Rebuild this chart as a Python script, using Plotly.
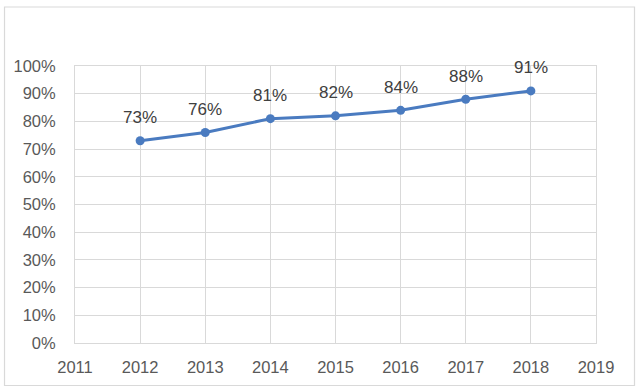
import plotly.graph_objects as go

years = [2012, 2013, 2014, 2015, 2016, 2017, 2018]
values = [73, 76, 81, 82, 84, 88, 91]
labels = ["73%", "76%", "81%", "82%", "84%", "88%", "91%"]
y_ticks = [0, 10, 20, 30, 40, 50, 60, 70, 80, 90, 100]
y_tick_text = [f"{v}%" for v in y_ticks]
x_ticks = [2011, 2012, 2013, 2014, 2015, 2016, 2017, 2018, 2019]

line_color = "#4A7BC0"
grid_color = "#D9D9D9"
font_family = "Liberation Sans, Arial, sans-serif"

fig = go.Figure()
fig.add_trace(go.Scatter(
    x=years, y=values, mode="lines+markers",
    line=dict(color=line_color, width=3),
    marker=dict(color=line_color, size=9),
    hoverinfo="skip", showlegend=False,
))

for x, y, t in zip(years, values, labels):
    fig.add_annotation(x=x, y=y, text=t, showarrow=False, yshift=23,
                       font=dict(family=font_family, size=17, color="#404040"))

fig.add_shape(type="rect", xref="paper", yref="paper",
              x0=-0.1353, x1=1.0739, y0=-0.1534, y1=1.2130,
              line=dict(color="#D9D9D9", width=1.2), layer="below")

fig.update_layout(
    width=643, height=389,
    margin=dict(l=75, r=47, t=66, b=46),
    paper_bgcolor="white", plot_bgcolor="white",
    font=dict(family=font_family, size=16.5, color="#595959"),
    xaxis=dict(range=[2011, 2019], tickmode="array", tickvals=x_ticks,
               showgrid=True, gridcolor=grid_color, gridwidth=1,
               showline=True, linecolor=grid_color, mirror=True,
               zeroline=False, ticks="", ticklabelstandoff=9,
               tickfont=dict(size=16.5, color="#595959")),
    yaxis=dict(range=[0, 100], tickmode="array", tickvals=y_ticks,
               ticktext=y_tick_text,
               showgrid=True, gridcolor=grid_color, gridwidth=1,
               showline=True, linecolor=grid_color, mirror=True,
               zeroline=False, ticks="", ticklabelstandoff=15,
               tickfont=dict(size=16.5, color="#595959")),
)

fig.write_html("out.html", config={"displayModeBar": False, "staticPlot": True},
               post_script="document.body.style.margin='0';document.body.style.overflow='hidden';")
